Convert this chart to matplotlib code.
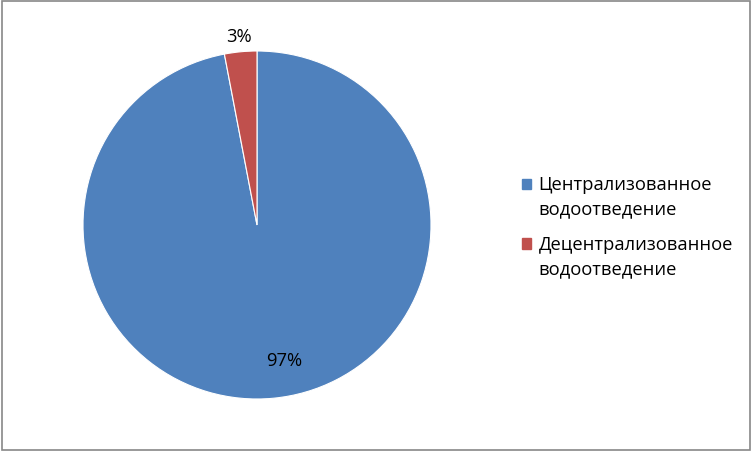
import matplotlib.pyplot as plt
import matplotlib.patches as mpatches
from matplotlib.legend_handler import HandlerPatch
import numpy as np

labels = ['Централизованное\nводоотведение', 'Децентрализованное\nводоотведение']
values = [97, 3]
pct_labels = ['97%', '3%']
colors = ['#4F81BD', '#C0504D']

plt.rcParams['font.family'] = ['Open Sans', 'DejaVu Sans']

fig = plt.figure(figsize=(7.52, 4.52), dpi=100)
ax = fig.add_axes([83 / 752, 52 / 452, 348 / 752, 348 / 452])

wedges, _ = ax.pie(values, colors=colors, startangle=90, counterclock=False,
                   wedgeprops=dict(edgecolor='white', linewidth=0.8))
ax.set_xlim(-1, 1)
ax.set_ylim(-1, 1)
ax.set_aspect('equal')

# data labels: 97% inside (shifted like Excel), 3% outside
for w, txt, r, shift in zip(wedges, pct_labels, [0.79, 1.09], [6, 0]):
    ang = np.deg2rad((w.theta1 + w.theta2) / 2 + shift)
    ax.text(r * np.cos(ang), r * np.sin(ang), txt, ha='center', va='center',
            fontsize=13.2, color='black')


# legend squares sit next to the first line of each label, like in Excel
def square_top(legend, orig_handle, xdescent, ydescent, width, height, fontsize):
    return mpatches.Rectangle((-xdescent, -ydescent + 9.5), width, height)


handles = [mpatches.Patch(color=c) for c in colors]
leg = fig.legend(handles, labels, loc='center left', bbox_to_anchor=(0.694, 0.497),
                 frameon=False, fontsize=13.2, handlelength=0.5, handleheight=0.5,
                 handletextpad=0.4, labelspacing=0.95, borderpad=0, borderaxespad=0,
                 handler_map={mpatches.Patch: HandlerPatch(patch_func=square_top)})
for t in leg.get_texts():
    t.set_linespacing(1.45)

fig.patches.append(mpatches.Rectangle((0.002, 0.003), 0.995, 0.993, transform=fig.transFigure,
                                      fill=False, edgecolor='#888888', linewidth=1.2))

fig.savefig('out.png', dpi=100)
